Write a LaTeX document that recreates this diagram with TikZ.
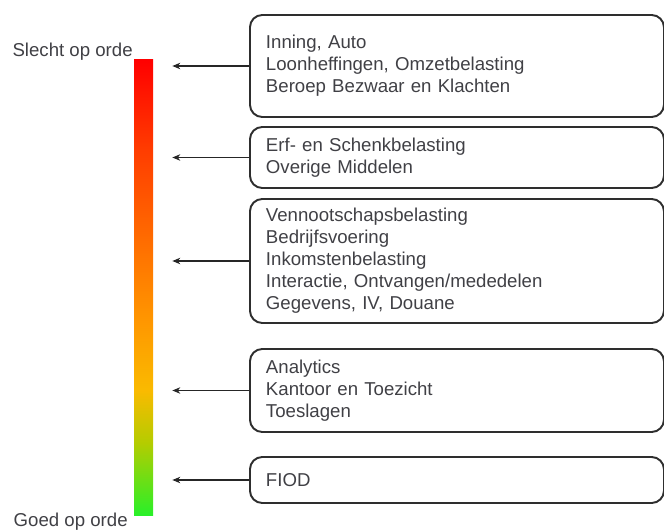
\documentclass[tikz,border=0pt]{standalone}
\usepackage{fontspec}
\setmainfont{Liberation Sans}
\usetikzlibrary{arrows.meta,calc,positioning}
\definecolor{tekstgrijs}{rgb}{0.25,0.25,0.27}
\definecolor{randgrijs}{rgb}{0.18,0.18,0.18}
\definecolor{ampelrood}{rgb}{1,0,0}
\definecolor{ampeloranje}{rgb}{1,0.24,0}
\definecolor{ampeloranjelicht}{rgb}{1,0.59,0}
\definecolor{ampelgeel}{rgb}{0.98,0.73,0}
\definecolor{ampelolijf}{rgb}{0.71,0.80,0}
\definecolor{ampelgroen}{rgb}{0.16,0.94,0.16}
\pgfdeclareverticalshading{ampel}{100bp}{
  color(0bp)=(ampelgroen);
  color(25bp)=(ampelgroen);
  color(33bp)=(ampelolijf);
  color(38.7bp)=(ampelgeel);
  color(46.4bp)=(ampeloranjelicht);
  color(65bp)=(ampeloranje);
  color(75bp)=(ampelrood);
  color(100bp)=(ampelrood)
}
\tikzset{
  blok/.style={
    rounded corners=7pt,
    draw=randgrijs,
    line width=1.1pt,
    anchor=west,
    align=left,
    text width=7.64cm,
    inner xsep=0.32cm,
    inner ysep=0pt,
    font=\fontsize{10.6}{12.5}\selectfont,
    text=tekstgrijs
  },
  schaal/.style={
    shading=ampel,
    minimum width=0.38cm,
    minimum height=9.1cm,
    inner sep=0pt
  },
  label/.style={
    font=\fontsize{10.6}{12.5}\selectfont,
    text=tekstgrijs,
    inner sep=0pt
  },
  arrow/.style={
    -{Stealth[length=1.6mm,width=1.3mm]},
    line width=0.6pt,
    black!85
  }
}
\begin{document}
\begin{tikzpicture}
\useasboundingbox (0,0) rectangle (13.28,-10.6);
\node[schaal] (bar) at (2.87,-5.75) {};
\node[label,anchor=base east] (slecht) at (2.66,-1.14) {Slecht op orde};
\node[label,anchor=base east] (goed) at (2.56,-10.52) {Goed op orde};
\node[blok,minimum height=2.04cm] (b1) at (4.98,-1.32) {Inning, Auto\\Loonheffingen, Omzetbelasting\\Beroep Bezwaar en Klachten};
\node[blok,minimum height=1.22cm] (b2) at (4.98,-3.15) {Erf- en Schenkbelasting\\Overige Middelen};
\node[blok,minimum height=2.48cm] (b3) at (4.98,-5.22) {Vennootschapsbelasting\\Bedrijfsvoering\\Inkomstenbelasting\\Interactie, Ontvangen/mededelen\\Gegevens, IV, Douane};
\node[blok,minimum height=1.66cm] (b4) at (4.98,-7.81) {Analytics\\Kantoor en Toezicht\\Toeslagen};
\node[blok,minimum height=0.92cm] (b5) at (4.98,-9.6) {FIOD};
\foreach \n in {1,...,5}
  \draw[arrow] (b\n.west) -- ($(b\n.west -| bar.east)+(0.38,0)$);
\end{tikzpicture}
\end{document}
